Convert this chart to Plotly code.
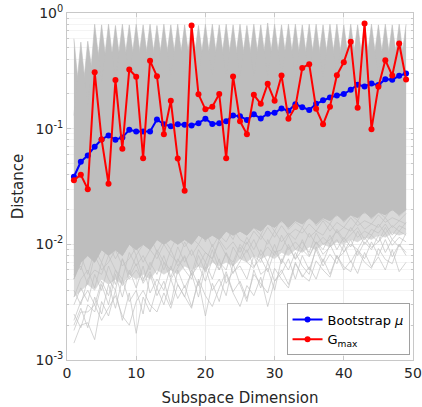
import plotly.graph_objects as go

dims = list(range(1, 50))

boot_mu = [0.0384, 0.0518, 0.0587, 0.0698, 0.0807, 0.0873, 0.0802, 0.0839, 0.0978, 0.0946,
           0.0946, 0.0946, 0.120, 0.109, 0.105, 0.109, 0.108, 0.1066, 0.1116, 0.122,
           0.110, 0.1116, 0.116, 0.130, 0.128, 0.119, 0.133, 0.1226, 0.1346, 0.137,
           0.1495, 0.1428, 0.1625, 0.1535, 0.145, 0.164, 0.176, 0.186, 0.1936, 0.199,
           0.217, 0.240, 0.232, 0.246, 0.238, 0.268, 0.265, 0.2866, 0.300]

g_max = [0.0359, 0.040, 0.030, 0.308, 0.0807, 0.0334, 0.263, 0.067, 0.325, 0.281,
         0.0556, 0.386, 0.284, 0.0896, 0.174, 0.0553, 0.029, 0.780, 0.198, 0.147,
         0.155, 0.199, 0.0556, 0.283, 0.116, 0.0896, 0.196, 0.164, 0.244, 0.174,
         0.288, 0.122, 0.154, 0.335, 0.361, 0.149, 0.109, 0.155, 0.290, 0.376,
         0.564, 0.152, 0.811, 0.099, 0.230, 0.391, 0.288, 0.545, 0.266]

# envelope of the bootstrap cloud
cloud_peak = [0.60, 0.56, 0.57, 0.80, 0.79, 0.80, 0.78, 0.80, 0.79, 0.80,
              0.79, 0.80, 0.78, 0.80, 0.79, 0.80, 0.79, 0.80, 0.78, 0.80,
              0.80, 0.79, 0.80, 0.79, 0.80, 0.78, 0.80, 0.79, 0.82, 0.80,
              0.79, 0.80, 0.80, 0.79, 0.80, 0.80, 0.79, 0.80, 0.80, 0.79,
              0.80, 0.79, 0.80, 0.80, 0.79, 0.80, 0.79, 0.80, 0.80]
cloud_valley = [0.13, 0.14, 0.15, 0.22, 0.25, 0.26, 0.26, 0.27, 0.27, 0.28,
                0.28, 0.28, 0.28, 0.28, 0.28, 0.28, 0.28, 0.28, 0.28, 0.28,
                0.28, 0.28, 0.28, 0.28, 0.28, 0.28, 0.28, 0.28, 0.28, 0.28,
                0.28, 0.28, 0.28, 0.28, 0.28, 0.28, 0.28, 0.28, 0.28, 0.28,
                0.28, 0.28, 0.28, 0.28, 0.28, 0.28, 0.28, 0.28, 0.28]
cloud_core_low = [0.005, 0.007, 0.008, 0.007, 0.009, 0.008, 0.009, 0.008, 0.010, 0.009,
                  0.010, 0.009, 0.011, 0.010, 0.011, 0.010, 0.011, 0.010, 0.012, 0.011,
                  0.012, 0.011, 0.013, 0.012, 0.013, 0.012, 0.014, 0.013, 0.015, 0.014,
                  0.016, 0.014, 0.016, 0.015, 0.017, 0.015, 0.017, 0.016, 0.018, 0.016,
                  0.018, 0.017, 0.019, 0.017, 0.019, 0.018, 0.020, 0.018, 0.020]
# lower edge of the thinner, partly covered band below the core
cloud_sparse_low = [0.0035, 0.004, 0.0045, 0.004, 0.005, 0.0045, 0.005, 0.0045, 0.0055, 0.005,
                    0.0055, 0.005, 0.006, 0.0055, 0.006, 0.0055, 0.0065, 0.006, 0.0065, 0.006,
                    0.007, 0.0065, 0.007, 0.0065, 0.0075, 0.007, 0.008, 0.0075, 0.008, 0.0075,
                    0.0085, 0.008, 0.009, 0.0085, 0.0095, 0.009, 0.010, 0.0095, 0.0105, 0.010,
                    0.011, 0.0105, 0.0115, 0.011, 0.012, 0.0115, 0.0125, 0.012, 0.0125]

# individual bootstrap curves visible in the lower tail (units of 1e-3)
tail_1 = [1.4, 2.0, 2.1, 1.5, 3.2, 2.4, 4.0, 2.2, 3.8, 1.7, 3.5, 2.6, 4.2, 3.0, 5.0, 3.4, 4.4, 2.9, 4.8, 2.4,
          4.6, 3.2, 5.5, 3.8, 2.9, 4.4, 3.6, 5.2, 2.9, 4.8, 6.0, 4.5, 7.0, 5.2, 6.4, 5.0, 7.5, 5.5, 8.0, 6.0,
          7.2, 5.6, 8.5, 6.4, 7.8, 6.0, 9.0, 5.8, 7.0]
tail_2 = [2.0, 2.8, 1.9, 3.5, 2.5, 4.5, 2.8, 5.0, 3.2, 4.0, 2.5, 5.5, 3.6, 4.8, 3.0, 6.0, 4.2, 5.6, 3.5, 6.4,
          4.0, 5.0, 3.6, 6.8, 4.5, 3.2, 6.0, 4.2, 7.0, 4.8, 5.6, 7.5, 5.0, 8.0, 6.0, 9.0, 6.5, 8.2, 6.8, 10.0,
          7.0, 9.0, 7.5, 10.5, 8.0, 11.0, 7.8, 10.0, 8.5]
tail_3 = [2.5, 1.9, 3.0, 2.6, 4.5, 3.0, 5.5, 3.5, 6.0, 4.2, 6.5, 3.8, 5.0, 4.0, 6.5, 4.5, 3.5, 6.0, 4.4, 7.0,
          5.0, 7.5, 4.6, 5.8, 6.5, 5.0, 8.0, 5.5, 6.2, 4.0, 7.5, 6.0, 8.5, 6.5, 5.5, 9.5, 7.0, 10.0, 7.5, 8.5,
          11.0, 8.0, 10.5, 9.0, 12.0, 8.5, 11.0, 9.5, 12.5]
tail_4 = [3.0, 4.2, 3.2, 5.5, 4.0, 6.5, 4.5, 7.5, 5.0, 6.0, 4.8, 7.0, 5.5, 8.0, 5.2, 7.5, 6.0, 5.0, 8.0, 5.8,
          9.0, 6.0, 8.5, 6.5, 9.5, 7.0, 6.2, 9.0, 7.0, 10.0, 6.8, 9.5, 7.5, 11.0, 8.0, 10.5, 9.0, 12.0, 9.0, 11.5,
          9.5, 13.0, 10.0, 12.0, 10.5, 14.0, 11.0, 13.0, 12.0]
tail_5 = [4.0, 3.0, 5.0, 6.0, 5.5, 8.0, 6.0, 5.0, 8.5, 6.5, 8.0, 6.0, 9.0, 7.0, 6.0, 9.5, 7.0, 9.0, 6.5, 8.5,
          7.5, 10.5, 8.0, 7.0, 10.0, 8.5, 11.0, 8.0, 9.5, 8.0, 12.0, 9.0, 10.5, 9.0, 12.5, 10.0, 11.5, 10.0, 13.5, 11.0,
          14.0, 11.5, 13.0, 12.0, 15.0, 12.5, 14.5, 13.0, 15.5]
tail_6 = [5.5, 6.5, 4.5, 8.0, 6.0, 7.0, 9.0, 6.5, 7.5, 9.5, 7.0, 9.0, 7.5, 10.0, 8.0, 7.0, 10.5, 8.0, 10.0, 8.5,
          7.5, 11.0, 9.0, 10.5, 8.5, 11.5, 9.0, 12.0, 10.0, 13.0, 10.5, 12.5, 11.0, 14.0, 11.5, 13.0, 12.0, 15.0, 12.5, 14.0,
          13.0, 16.0, 13.5, 15.0, 14.0, 17.0, 14.0, 16.0, 15.0]
tail_7 = [1.8, 2.6, 2.6, 3.0, 2.2, 2.8, 3.6, 2.4, 2.0, 3.2, 4.0, 3.0, 2.6, 3.8, 2.8, 4.5, 3.5, 2.8, 5.0, 3.6,
          2.9, 4.2, 5.8, 3.9, 4.8, 3.4, 5.5, 4.6, 3.8, 6.2, 5.0, 4.2, 6.8, 5.4, 4.8, 7.2, 6.0, 5.2, 8.0, 6.4,
          5.8, 8.8, 7.0, 6.2, 9.2, 7.4, 6.8, 10.0, 8.0]
tail_8 = [6.5, 8.0, 5.5, 9.0, 7.0, 10.0, 7.5, 9.5, 11.0, 8.0, 10.0, 12.0, 8.5, 11.0, 9.0, 12.0, 9.5, 11.5, 10.0, 13.0,
          9.5, 12.0, 10.5, 13.5, 11.0, 10.0, 13.0, 11.0, 14.0, 11.5, 14.5, 12.0, 13.5, 12.5, 15.0, 13.0, 16.0, 13.0, 15.5, 14.0,
          17.0, 14.5, 16.0, 15.0, 18.0, 15.5, 17.0, 16.0, 18.5]
tail_9 = [3.5, 5.0, 6.0, 4.2, 7.0, 5.0, 4.0, 7.5, 5.5, 8.0, 5.0, 6.5, 8.5, 6.0, 9.0, 6.5, 8.0, 5.5, 9.0, 7.0,
          10.0, 7.0, 6.0, 9.5, 7.5, 10.5, 8.0, 7.0, 11.0, 8.5, 9.0, 12.0, 9.0, 10.5, 8.5, 12.5, 10.0, 11.0, 13.0, 10.5,
          12.0, 14.0, 11.0, 13.5, 12.5, 15.0, 12.0, 14.5, 13.5]
tail_10 = [8.0, 6.0, 10.0, 7.5, 12.0, 9.0, 11.0, 8.0, 12.5, 10.0, 13.0, 9.5, 12.0, 10.5, 14.0, 11.0, 13.0, 11.5, 14.5, 10.5,
           15.0, 12.0, 13.5, 11.0, 15.5, 12.5, 14.0, 12.0, 16.0, 13.0, 17.0, 13.5, 15.5, 14.0, 18.0, 14.5, 16.5, 15.0, 19.0, 15.5,
           18.0, 16.0, 20.0, 16.5, 19.0, 17.0, 21.0, 17.5, 20.0]
tail_11 = [2.2, 3.2, 4.0, 3.0, 4.8, 3.6, 6.0, 4.4, 5.2, 6.8, 4.6, 5.8, 4.2, 7.0, 5.0, 6.2, 7.8, 5.4, 6.6, 4.8,
           7.4, 6.0, 8.4, 5.6, 7.0, 9.0, 6.4, 7.6, 5.8, 8.8, 7.0, 10.0, 7.4, 9.0, 7.8, 10.5, 8.2, 9.4, 11.0, 8.6,
           10.0, 9.0, 11.5, 9.4, 10.5, 12.5, 9.8, 11.5, 10.5]
tail_12 = [10.0, 12.0, 8.5, 13.0, 10.5, 14.0, 11.0, 13.5, 15.0, 12.0, 14.5, 11.5, 15.5, 13.0, 12.0, 16.0, 13.5, 15.0, 12.5, 16.5,
           14.0, 15.5, 13.5, 17.0, 14.5, 16.0, 14.0, 18.0, 15.0, 17.0, 15.5, 19.0, 16.0, 18.0, 16.5, 20.0, 17.0, 19.0, 17.5, 21.0,
           18.0, 20.0, 18.5, 22.0, 19.0, 21.0, 19.5, 23.0, 20.0]
tails = [tail_1, tail_2, tail_3, tail_4, tail_5, tail_6, tail_7, tail_8,
         tail_9, tail_10, tail_11, tail_12]

x_ticks = [0, 10, 20, 30, 40, 50]
y_ticks = [1e-3, 1e-2, 1e-1, 1]
y_ticktext = ["10<sup>-3</sup>", "10<sup>-2</sup>", "10<sup>-1</sup>", "10<sup>0</sup>"]

GRAY = "#bebebe"
TXT = "#262626"

fig = go.Figure()

# thinner band just under the dense core
fig.add_trace(go.Scatter(x=dims, y=cloud_sparse_low, mode="lines",
                         line=dict(color="#d6d6d6", width=0.5),
                         showlegend=False, hoverinfo="skip"))
fig.add_trace(go.Scatter(x=dims, y=cloud_core_low, mode="lines", fill="tonexty",
                         fillcolor="#d9d9d9", line=dict(color="#d6d6d6", width=0.5),
                         showlegend=False, hoverinfo="skip"))

# tail lines
for t in tails:
    fig.add_trace(go.Scatter(x=dims, y=[v * 1e-3 for v in t], mode="lines",
                             line=dict(color="#c2c2c2", width=0.7),
                             showlegend=False, hoverinfo="skip"))

# dense cloud: union of two zig-zag fills gives the saw-tooth top
upper_a = [p if d % 2 == 1 else v for d, p, v in zip(dims, cloud_peak, cloud_valley)]
upper_b = [p if d % 2 == 0 else v for d, p, v in zip(dims, cloud_peak, cloud_valley)]
for up in (upper_a, upper_b):
    fig.add_trace(go.Scatter(x=dims, y=cloud_core_low, mode="lines",
                             line=dict(color=GRAY, width=0.6),
                             showlegend=False, hoverinfo="skip"))
    fig.add_trace(go.Scatter(x=dims, y=up, mode="lines", fill="tonexty",
                             fillcolor=GRAY, line=dict(color=GRAY, width=0.6),
                             showlegend=False, hoverinfo="skip"))

fig.add_trace(go.Scatter(x=dims, y=boot_mu, mode="lines+markers", name="Bootstrap <i>\u03bc</i>",
                         line=dict(color="#0000ff", width=2),
                         marker=dict(color="#0000ff", size=6)))
fig.add_trace(go.Scatter(x=dims, y=g_max, mode="lines+markers", name="G<sub>max</sub>",
                         line=dict(color="#ff0000", width=2),
                         marker=dict(color="#ff0000", size=6)))

minor_vals = [m * 10.0 ** e for e in (-3, -2, -1) for m in range(2, 10)]

fig.update_layout(
    width=422, height=407,
    margin=dict(l=67, r=9, t=13, b=47),
    paper_bgcolor="white", plot_bgcolor="white",
    font=dict(family="DejaVu Sans", size=14, color=TXT),
    showlegend=True,
    legend=dict(x=0.99, y=0.013, xanchor="right", yanchor="bottom",
                bgcolor="white", bordercolor="#a0a0a0", borderwidth=1,
                font=dict(size=13, color="black"), traceorder="normal",
                tracegroupgap=0, itemwidth=30),
    xaxis=dict(range=[0, 50], tickvals=x_ticks, showline=True, mirror="allticks",
               linecolor="#c8c8c8", linewidth=1, ticks="inside", ticklen=4,
               tickcolor="#c8c8c8", showgrid=True, gridcolor="#ececec", zeroline=False,
               tickfont=dict(size=14, color=TXT), automargin=False,
               title=dict(text="Subspace Dimension", font=dict(size=15, color=TXT))),
    yaxis=dict(type="log", range=[-3, 0], tickvals=y_ticks, ticktext=y_ticktext,
               showline=True, mirror="allticks", linecolor="#c8c8c8", linewidth=1,
               ticks="inside", ticklen=4, tickcolor="#c8c8c8",
               showgrid=True, gridcolor="#ececec", zeroline=False,
               tickfont=dict(size=14, color=TXT), automargin=False,
               minor=dict(tickvals=minor_vals, ticks="inside", ticklen=2,
                          tickcolor="#c8c8c8", showgrid=True, gridcolor="#f4f4f4")),
    annotations=[dict(text="Distance", textangle=-90, xref="paper", yref="paper",
                      x=-0.142, y=0.5, xanchor="center", yanchor="middle",
                      showarrow=False, font=dict(size=15, color=TXT))],
)

fig.write_html("out.html", config={"displayModeBar": False},
               post_script="document.body.style.margin='0';document.body.style.overflow='hidden';")
